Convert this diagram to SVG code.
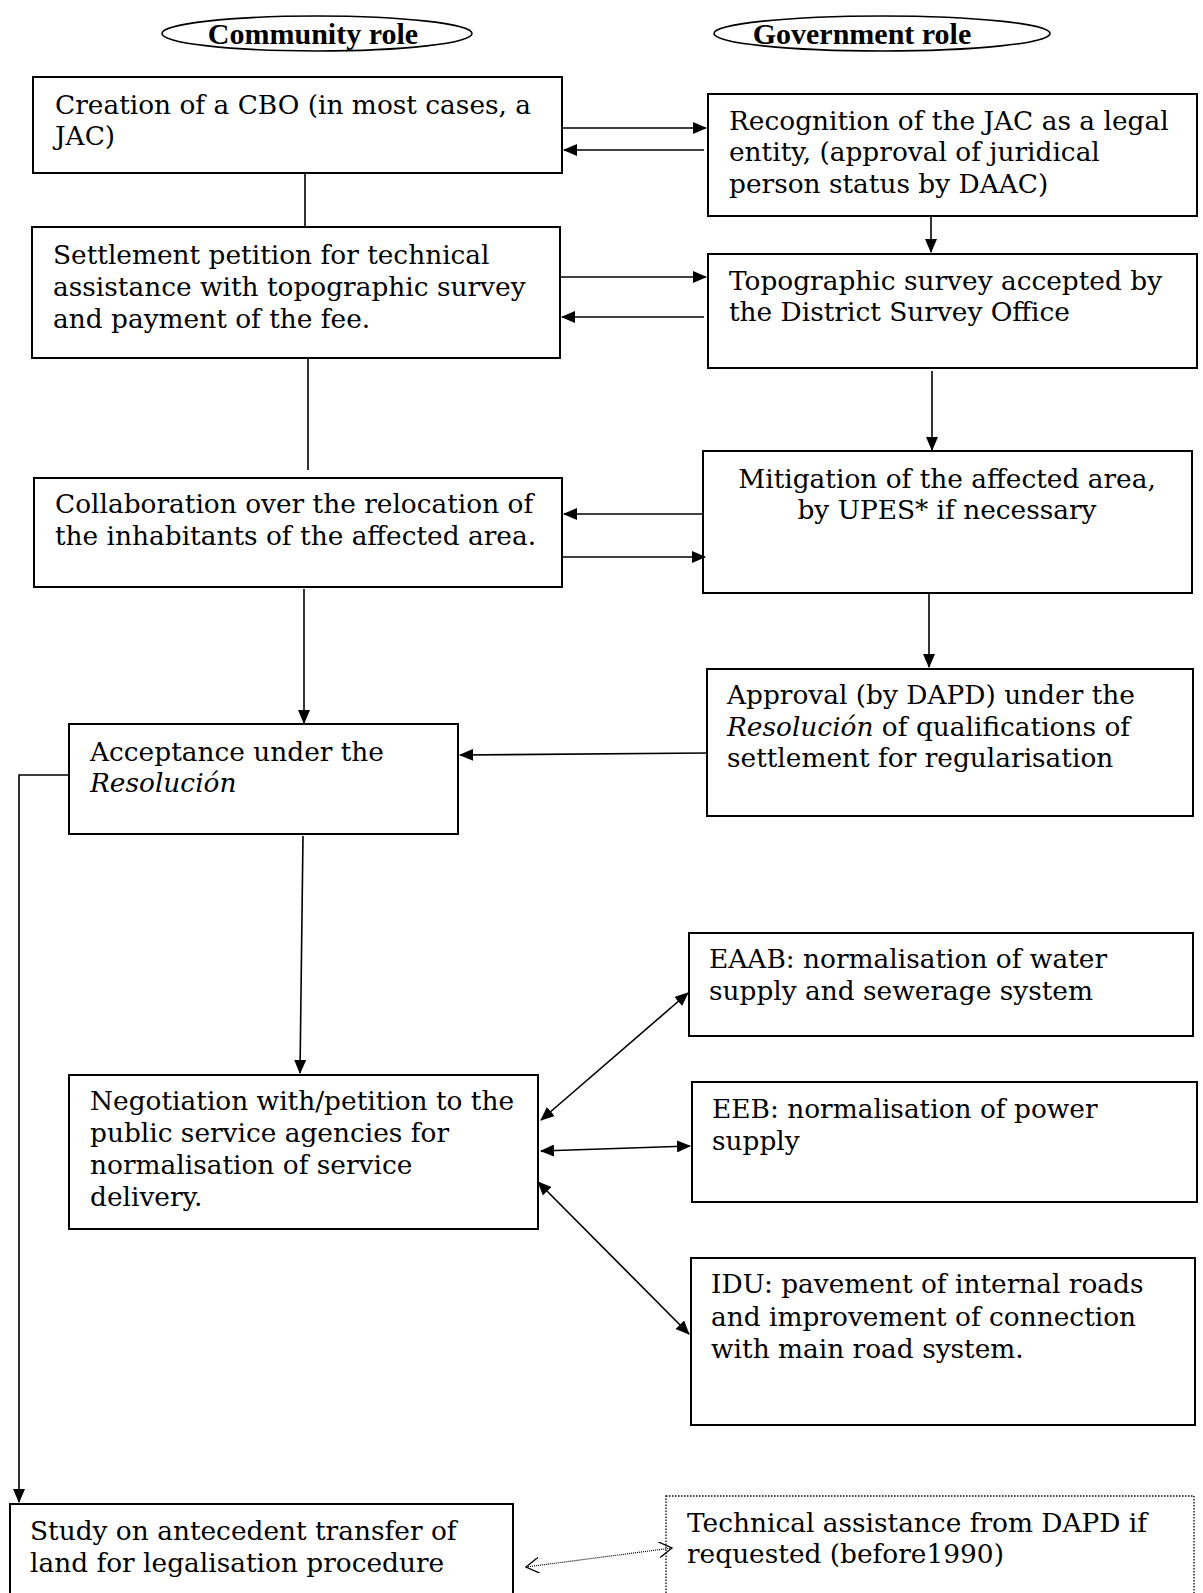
<svg xmlns="http://www.w3.org/2000/svg" width="1203" height="1593" viewBox="0 0 1203 1593">
<style>
.box{fill:#fff;stroke:#000;stroke-width:2}
.dot{fill:#fff;stroke:#000;stroke-width:1.3;stroke-dasharray:1.5 1.5}
.t{font-family:"DejaVu Serif","Liberation Serif",serif;font-size:26.4px;fill:#000}
.h{font-family:"Liberation Serif",serif;font-size:30px;font-weight:bold;fill:#000}
.c{fill:none;stroke:#000;stroke-width:1.6}
.cd{fill:none;stroke:#000;stroke-width:1.2;stroke-dasharray:1 1}
</style>
<defs>
<marker id="a" viewBox="0 0 14 12" refX="13" refY="6" markerWidth="14" markerHeight="12" markerUnits="userSpaceOnUse" orient="auto-start-reverse"><path d="M0,0 L14,6 L0,12 Z" fill="#000"/></marker>
<marker id="o" viewBox="0 0 14 16" refX="13" refY="8" markerWidth="14" markerHeight="16" markerUnits="userSpaceOnUse" orient="auto-start-reverse"><path d="M0,0 L13,8 L0,16" fill="none" stroke="#000" stroke-width="1.3"/></marker>
</defs>
<g id="head-community"><ellipse cx="317" cy="33.5" rx="155" ry="17.5" fill="#fff" stroke="#000" stroke-width="1.6"/><text class="h" x="313" y="44" text-anchor="middle">Community role</text></g>
<g id="head-government"><ellipse cx="882" cy="33.5" rx="168" ry="17.5" fill="#fff" stroke="#000" stroke-width="1.6"/><text class="h" x="862" y="44" text-anchor="middle">Government role</text></g>

<g id="n1"><rect class="box" x="33" y="77" width="529" height="96"/><text class="t" x="55" y="114">Creation of a CBO (in most cases, a</text><text class="t" x="55" y="145">JAC)</text></g>
<g id="n2"><rect class="box" x="708" y="94" width="489" height="122"/><text class="t" x="729" y="130">Recognition of the JAC as a legal</text><text class="t" x="729" y="161">entity, (approval of juridical</text><text class="t" x="729" y="193">person status by DAAC)</text></g>
<g id="n3"><rect class="box" x="32" y="227" width="528" height="131"/><text class="t" x="53" y="264">Settlement petition for technical</text><text class="t" x="53" y="296">assistance with topographic survey</text><text class="t" x="53" y="328">and payment of the fee.</text></g>
<g id="n4"><rect class="box" x="708" y="254" width="489" height="114"/><text class="t" x="729" y="290">Topographic survey accepted by</text><text class="t" x="729" y="321">the District Survey Office</text></g>
<g id="n5"><rect class="box" x="703" y="451" width="489" height="142"/><text class="t" x="947" y="488" text-anchor="middle">Mitigation of the affected area,</text><text class="t" x="947" y="519" text-anchor="middle">by UPES* if necessary</text></g>
<g id="n6"><rect class="box" x="34" y="478" width="528" height="109"/><text class="t" x="55" y="513">Collaboration over the relocation of</text><text class="t" x="55" y="545">the inhabitants of the affected area.</text></g>
<g id="n7"><rect class="box" x="707" y="669" width="486" height="147"/><text class="t" x="727" y="704">Approval (by DAPD) under the</text><text class="t" x="727" y="736"><tspan font-style="italic">Resolución</tspan> of qualifications of</text><text class="t" x="727" y="767">settlement for regularisation</text></g>
<g id="n8"><rect class="box" x="69" y="724" width="389" height="110"/><text class="t" x="90" y="761">Acceptance under the</text><text class="t" x="90" y="792" font-style="italic">Resolución</text></g>
<g id="n9"><rect class="box" x="689" y="933" width="504" height="103"/><text class="t" x="709" y="968">EAAB: normalisation of water</text><text class="t" x="709" y="1000">supply and sewerage system</text></g>
<g id="n10"><rect class="box" x="69" y="1075" width="469" height="154"/><text class="t" x="90" y="1110">Negotiation with/petition to the</text><text class="t" x="90" y="1142">public service agencies for</text><text class="t" x="90" y="1174">normalisation of service</text><text class="t" x="90" y="1206">delivery.</text></g>
<g id="n11"><rect class="box" x="692" y="1082" width="505" height="120"/><text class="t" x="712" y="1118">EEB: normalisation of power</text><text class="t" x="712" y="1150">supply</text></g>
<g id="n12"><rect class="box" x="691" y="1258" width="504" height="167"/><text class="t" x="711" y="1293">IDU: pavement of internal roads</text><text class="t" x="711" y="1326">and improvement of connection</text><text class="t" x="711" y="1358">with main road system.</text></g>
<g id="n13"><rect class="box" x="10" y="1504" width="503" height="110"/><text class="t" x="30" y="1540">Study on antecedent transfer of</text><text class="t" x="30" y="1572">land for legalisation procedure</text></g>
<g id="n14"><rect class="dot" x="666" y="1496" width="528" height="110"/><text class="t" x="687" y="1532">Technical assistance from DAPD if</text><text class="t" x="687" y="1563">requested (before1990)</text></g>

<g id="connectors">
<line class="c" x1="562" y1="128" x2="706" y2="128" marker-end="url(#a)"/>
<line class="c" x1="704" y1="150" x2="564" y2="150" marker-end="url(#a)"/>
<line class="c" x1="305" y1="173" x2="305" y2="227"/>
<line class="c" x1="931" y1="216" x2="931" y2="252" marker-end="url(#a)"/>
<line class="c" x1="560" y1="277" x2="706" y2="277" marker-end="url(#a)"/>
<line class="c" x1="704" y1="317" x2="562" y2="317" marker-end="url(#a)"/>
<line class="c" x1="308" y1="358" x2="308" y2="470"/>
<line class="c" x1="932" y1="371" x2="932" y2="450" marker-end="url(#a)"/>
<line class="c" x1="704" y1="514" x2="564" y2="514" marker-end="url(#a)"/>
<line class="c" x1="562" y1="557" x2="705" y2="557" marker-end="url(#a)"/>
<line class="c" x1="304" y1="589" x2="304" y2="723" marker-end="url(#a)"/>
<line class="c" x1="929" y1="594" x2="929" y2="667" marker-end="url(#a)"/>
<line class="c" x1="707" y1="753" x2="460" y2="755" marker-end="url(#a)"/>
<polyline class="c" points="69,775 19,775 19,1502" marker-end="url(#a)"/>
<line class="c" x1="303" y1="836" x2="300" y2="1073" marker-end="url(#a)"/>
<line class="c" x1="541" y1="1120" x2="688" y2="993" marker-start="url(#a)" marker-end="url(#a)"/>
<line class="c" x1="541" y1="1151" x2="690" y2="1146" marker-start="url(#a)" marker-end="url(#a)"/>
<line class="c" x1="538" y1="1182" x2="689" y2="1334" marker-start="url(#a)" marker-end="url(#a)"/>
<line class="cd" x1="526" y1="1567" x2="672" y2="1548" marker-start="url(#o)" marker-end="url(#o)"/>
</g>
</svg>
